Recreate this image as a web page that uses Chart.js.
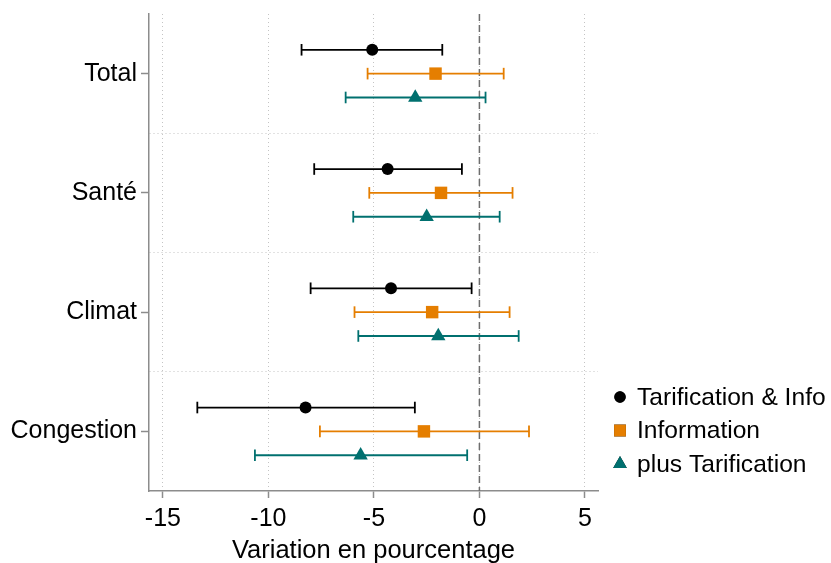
<!DOCTYPE html>
<html>
<head>
<meta charset="utf-8">
<script src="https://cdn.jsdelivr.net/npm/chart.js@4"></script>
<style>
  html, body { margin: 0; padding: 0; background: #fff; }
  #wrap { width: 831px; height: 563px; }
</style>
</head>
<body>
<div id="wrap"><canvas id="myChart" width="831" height="563"></canvas></div>
<script>
const categories = ['Total', 'Santé', 'Climat', 'Congestion'];
const seriesNames = ['Tarification & Info', 'Information', 'plus Tarification'];

// point estimates and confidence bounds, one value per category
const tarifInfoEst  = [-5.08, -4.35, -4.19, -8.24];
const tarifInfoLow  = [-8.43, -7.83, -8.00, -13.37];
const tarifInfoHigh = [-1.76, -0.83, -0.37, -3.06];

const infoEst  = [-2.08, -1.82, -2.24, -2.63];
const infoLow  = [-5.30, -5.22, -5.92, -7.56];
const infoHigh = [1.15, 1.57, 1.43, 2.35];

const plusTarifEst  = [-3.04, -2.50, -1.95, -5.63];
const plusTarifLow  = [-6.34, -5.98, -5.74, -10.64];
const plusTarifHigh = [0.29, 0.96, 1.86, -0.58];

const xTicks = [-15, -10, -5, 0, 5];
const refValue = 0;

const FONT = 'Liberation Sans, Arial, Helvetica, sans-serif';
const colors = ['#000000', '#E57E00', '#00706F'];
const markerStyles = ['circle', 'rect', 'triangle'];
const markerRadius = [6, 8.8, 8.3];
const offsets = [0.2, 0, -0.2];

const series = [
    { est: tarifInfoEst, low: tarifInfoLow, high: tarifInfoHigh },
    { est: infoEst, low: infoLow, high: infoHigh },
    { est: plusTarifEst, low: plusTarifLow, high: plusTarifHigh }
];

// category position on the y axis: Total on top
function catPos(i) {
    return categories.length - i;
}

const datasets = [];

// markers first so they are drawn on top
series.forEach((s, k) => {
    datasets.push({
        label: seriesNames[k],
        data: s.est.map((v, i) => ({ x: v, y: catPos(i) + offsets[k] })),
        showLine: false,
        pointStyle: markerStyles[k],
        pointRadius: markerRadius[k],
        pointHoverRadius: markerRadius[k],
        backgroundColor: colors[k],
        borderColor: colors[k],
        pointBorderWidth: 0
    });
});

// error bars: one short line per category, caps are rotated "line" points
series.forEach((s, k) => {
    categories.forEach((c, i) => {
        const y = catPos(i) + offsets[k];
        datasets.push({
            label: 'ci',
            data: [{ x: s.low[i], y: y }, { x: s.high[i], y: y }],
            showLine: true,
            borderColor: colors[k],
            borderWidth: 1.8,
            pointStyle: 'line',
            rotation: 90,
            pointRadius: 5.8,
            pointHoverRadius: 5.8,
            pointBorderColor: colors[k],
            pointBorderWidth: 1.8
        });
    });
});

const refLine = {
    id: 'refLine',
    beforeDatasetsDraw(chart) {
        const { ctx, chartArea, scales } = chart;
        const x = scales.x.getPixelForValue(refValue);
        ctx.save();
        ctx.strokeStyle = '#6e6e6e';
        ctx.lineWidth = 1.5;
        ctx.setLineDash([7, 4]);
        ctx.beginPath();
        ctx.moveTo(x, chartArea.top);
        ctx.lineTo(x, chartArea.bottom);
        ctx.stroke();
        ctx.restore();
    }
};

const sideLegend = {
    id: 'sideLegend',
    afterDraw(chart) {
        const ctx = chart.ctx;
        const x0 = 620, y0 = 397, step = 33.5;
        ctx.save();
        ctx.font = '24.6px ' + FONT;
        ctx.textBaseline = 'middle';
        ctx.textAlign = 'left';
        seriesNames.forEach((name, k) => {
            const y = y0 + k * step;
            Chart.helpers.drawPoint(ctx, {
                pointStyle: markerStyles[k],
                radius: markerRadius[k] * 0.95,
                rotation: 0,
                borderWidth: 0
            }, x0, y);
            ctx.fillStyle = colors[k];
            ctx.fill();
            ctx.fillStyle = '#000';
            ctx.fillText(name, 637, y + 1);
        });
        ctx.restore();
    }
};

new Chart('myChart', {
    type: 'scatter',
    data: { datasets: datasets },
    options: {
        responsive: false,
        animation: false,
        layout: { padding: { top: 14, right: 233, bottom: 0, left: 0 } },
        plugins: {
            legend: { display: false },
            tooltip: { enabled: false }
        },
        scales: {
            x: {
                type: 'linear',
                min: -15.66,
                max: 5.62,
                afterBuildTicks: (scale) => { scale.ticks = xTicks.map(v => ({ value: v })); },
                afterFit: (scale) => {
                    scale.height = 72;
                    scale.paddingLeft = 0;
                    scale.paddingRight = 0;
                },
                ticks: {
                    color: '#000',
                    font: { family: FONT, size: 25 },
                    padding: 6,
                    maxRotation: 0
                },
                grid: {
                    color: '#c4c4c4',
                    lineWidth: 1,
                    tickColor: '#8c8c8c',
                    tickLength: 7,
                    tickWidth: 1.5
                },
                border: { display: true, color: '#8c8c8c', width: 1.5, dash: [1, 3] },
                title: {
                    display: true,
                    text: 'Variation en pourcentage',
                    color: '#000',
                    font: { family: FONT, size: 25.5 },
                    padding: { top: 0, bottom: -3 }
                }
            },
            y: {
                type: 'linear',
                min: 0.5,
                max: 4.5,
                afterBuildTicks: (scale) => {
                    const t = [];
                    for (let v = 1; v <= categories.length; v += 0.5) t.push({ value: v });
                    scale.ticks = t;
                },
                afterFit: (scale) => {
                    scale.width = 149;
                    scale.paddingTop = 0;
                    scale.paddingBottom = 0;
                },
                ticks: {
                    color: '#000',
                    font: { family: FONT, size: 25 },
                    padding: 4,
                    callback: (v) => Number.isInteger(v) ? categories[categories.length - v] : ''
                },
                grid: {
                    color: (c) => Number.isInteger(c.tick.value) ? 'rgba(0,0,0,0)' : '#c4c4c4',
                    tickColor: (c) => Number.isInteger(c.tick.value) ? '#8c8c8c' : 'rgba(0,0,0,0)',
                    lineWidth: 1,
                    tickLength: 8,
                    tickWidth: 1.5
                },
                border: { display: true, color: '#8c8c8c', width: 1.5, dash: [1, 3] }
            }
        }
    },
    plugins: [refLine, sideLegend]
});
</script>
</body>
</html>
